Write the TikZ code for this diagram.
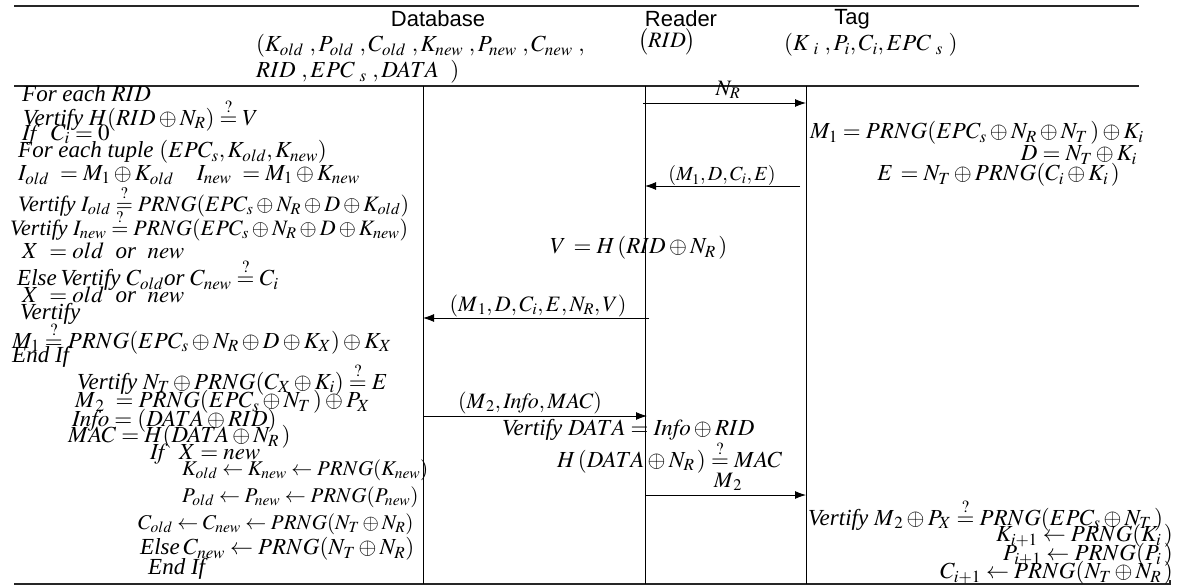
\documentclass[tikz,border=0pt]{standalone}
\usepackage{mathptmx}
\usepackage[no-math]{fontspec}
\setmainfont{Liberation Serif}
\newfontfamily\hdrfont{Liberation Sans}
\usetikzlibrary{arrows.meta}
\newcommand{\vfy}{\textit{Vertify}\ }
\newcommand{\qeq}{\mathrel{\stackrel{?}{=}}}
\begin{document}
\begin{tikzpicture}[x=1pt,y=-1pt,
  tx/.style={inner sep=0pt, anchor=west, font=\fontsize{23}{25}\selectfont},
  txr/.style={tx, anchor=east},
  txm/.style={tx, font=\fontsize{22}{24}\selectfont},
  txs/.style={tx, font=\fontsize{21}{23}\selectfont},
  lbl/.style={inner sep=0pt, anchor=center, font=\fontsize{22}{24}\selectfont},
  hd/.style={inner sep=0pt, anchor=center, font=\hdrfont\fontsize{22}{24}\selectfont},
  rulel/.style={line width=1.3pt, draw=black!85},
  life/.style={line width=0.9pt},
  msg/.style={line width=0.9pt, -{Latex[length=11pt,width=8pt]}}]
\useasboundingbox (0,0) rectangle (1177,588);

% rules
\coordinate (r1a) at (14,6);   \coordinate (r1b) at (1139,6);
\coordinate (r2a) at (14,86);  \coordinate (r2b) at (1139,86);
\coordinate (r3a) at (14,584); \coordinate (r3b) at (1170,584); \coordinate (r3c) at (1170,580);
\draw[rulel] (r1a) -- (r1b);
\draw[rulel] (r2a) -- (r2b);
\draw[rulel] (r3a) -- (r3b) -- (r3c);

% lifelines
\coordinate (dbT) at (423,86);  \coordinate (dbB) at (423,584);
\coordinate (rdT) at (645,86);  \coordinate (rdB) at (645,584);
\coordinate (tgT) at (806,86);  \coordinate (tgB) at (806,584);
\draw[life] (dbT) -- (dbB);
\draw[life] (rdT) -- (rdB);
\draw[life] (tgT) -- (tgB);

% headers
\node[hd] (hdb) at (438,19) {Database};
\node[hd] (hrd) at (681,19) {Reader};
\node[hd] (htg) at (852,19) {Tag};
\node[tx] (dbt1) at (256,46) {$(K_{old}\ ,P_{old}\ ,C_{old}\ ,K_{new}\ ,P_{new}\ ,C_{new}\ ,$};
\node[tx] (dbt2) at (256,72) {$RID\ ,EPC_{\ s}\ ,DATA\ \ )$};
\node[lbl] (rdt) at (667,42) {$\bigl(RID\bigr)$};
\node[tx] (tgt) at (784,45) {$(K_{\ i}\ ,P_i,C_i,EPC_{\ s}\ )$};

% messages
\coordinate (m1s) at (643,103); \coordinate (m1e) at (806,103);
\coordinate (m2s) at (800,186); \coordinate (m2e) at (645,186);
\coordinate (m3s) at (649,318); \coordinate (m3e) at (423,318);
\coordinate (m4s) at (423,416); \coordinate (m4e) at (647,416);
\coordinate (m5s) at (645,495); \coordinate (m5e) at (806,495);
\draw[msg] (m1s) -- (m1e);
\draw[msg] (m2s) -- (m2e);
\draw[msg] (m3s) -- (m3e);
\draw[msg] (m4s) -- (m4e);
\draw[msg] (m5s) -- (m5e);
\node[lbl] (l1) at (728,90) {$N_R$};
\node[lbl, font=\fontsize{20}{22}\selectfont] (l2) at (722,176) {$(M_1,D,C_i,E)$};
\node[lbl] (l3) at (538,306) {$(M_{\,1},D,C_i,E,N_R,V)$};
\node[lbl] (l4) at (530,403) {$(M_{\,2},\mathit{Info},MAC)$};
\node[lbl] (l5) at (728,482) {$M_{\,2}$};

% database side
\node[tx] (d1) at (22,94) {\textit{For each} $RID$};
\node[tx] (d2) at (23,115) {\vfy $H(RID\oplus N_R)\qeq V$};
\node[tx] (d3) at (22,135) {$\mathit{If}\ \ C_i=0$};
\node[tx] (d4) at (18,152) {\textit{For each tuple} $(EPC_s,K_{old},K_{new})$};
\node[tx] (d5) at (18,175) {$I_{old}\ =M_1\oplus K_{old}\quad I_{new}\ =M_1\oplus K_{new}$};
\node[txm] (d6) at (18,201) {\vfy $I_{old}\qeq PRNG(EPC_s\oplus N_R\oplus D\oplus K_{old})$};
\node[txm] (d7) at (10,225) {\vfy $I_{new}\qeq PRNG(EPC_s\oplus N_R\oplus D\oplus K_{new})$};
\node[tx] (d8) at (22,251) {$X\ =old$\ \ \textit{or}\ \ $new$};
\node[tx] (d9) at (17,275) {\textit{Else}\,\vfy $C_{old}$\textit{or}\ $C_{new}\qeq C_i$};
\node[tx] (d10) at (22,295) {$X\ =old$\ \ \textit{or}\ \ $new$};
\node[tx] (d11) at (20,314) {\textit{Vertify}};
\node[tx] (d12) at (12,338) {$M_1\qeq PRNG(EPC_s\oplus N_R\oplus D\oplus K_X)\oplus K_X$};
\node[tx] (d13) at (12,357) {\textit{End If}};
\node[tx] (d14) at (77,379) {\vfy $N_T\oplus PRNG(C_X\oplus K_i)\qeq E$};
\node[tx] (d15) at (75,402) {$M_{\,2}\ =PRNG(EPC_s\oplus N_T\,)\oplus P_X$};
\node[tx] (d16) at (72,421) {$\mathit{Info}=(DATA\oplus RID)$};
\node[tx] (d17) at (68,437) {$MAC=H(DATA\oplus N_R\,)$};
\node[tx] (d18) at (150,454) {$\mathit{If}\ \ X=new$};
\node[txs] (d19) at (182,470) {$K_{old}\leftarrow K_{new}\leftarrow PRNG(K_{new})$};
\node[txs] (d20) at (182,497) {$P_{old}\leftarrow P_{new}\leftarrow PRNG(P_{new})$};
\node[txs] (d21) at (138,524) {$C_{old}\leftarrow C_{new}\leftarrow PRNG(N_T\oplus N_R)$};
\node[tx] (d22) at (140,549) {\textit{Else}\,$C_{new}\leftarrow PRNG(N_T\oplus N_R)$};
\node[tx] (d23) at (148,569) {\textit{End If}};

% reader side
\node[tx] (r1) at (550,248) {$V\,=H\,(RID\oplus N_R\,)$};
\node[tx] (r2) at (502,430) {\vfy $DATA=\mathit{Info}\oplus RID$};
\node[tx] (r3) at (557,457) {$H\,(DATA\oplus N_R\,)\qeq MAC$};

% tag side
\node[tx] (t1) at (810,133) {$M_1=PRNG(EPC_s\oplus N_R\oplus N_T\,)\oplus K_i$};
\node[txr] (t2) at (1137,155) {$D=N_T\oplus K_i$};
\node[txr] (t3) at (1120,175) {$E\,=N_T\oplus PRNG(C_i\oplus K_i\,)$};
\node[tx] (t4) at (808,515) {\vfy $M_{\,2}\oplus P_X\qeq PRNG(EPC_s\oplus N_T\,)$};
\node[txr] (t5) at (1173,536) {$K_{i+1}\leftarrow PRNG(K_i\,)$};
\node[txr] (t6) at (1173,555) {$P_{i+1}\leftarrow PRNG(P_i\,)$};
\node[txr] (t7) at (1173,573) {$C_{i+1}\leftarrow PRNG(N_T\oplus N_R\,)$};
\end{tikzpicture}
\end{document}
